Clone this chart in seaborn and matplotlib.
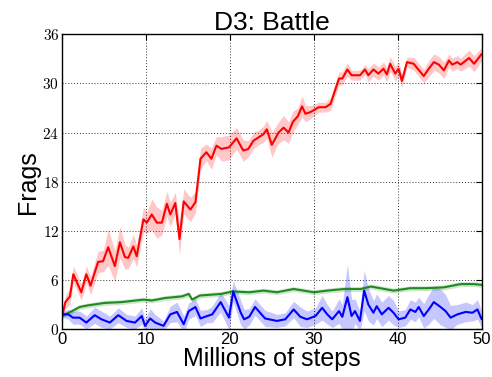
import numpy as np
import pandas as pd
import matplotlib
matplotlib.use("Agg")
import matplotlib.pyplot as plt
import seaborn as sns

# red curve (mean and half-width of the shaded band)
red_x = [0, 0.4, 0.95, 1.35, 2.3, 2.9, 3.4, 4.3, 4.9, 5.5, 6.3, 6.9, 7.5, 7.9, 8.5, 8.9,
         9.7, 10.1, 10.7, 11.3, 11.9, 12.5, 12.9, 13.5, 14.0, 14.5, 15.3, 15.9, 16.5, 17.2,
         17.8, 18.4, 19.0, 19.9, 20.8, 21.6, 22.2, 22.8, 23.4, 24.0, 24.4, 25.0, 25.8, 26.4,
         27.0, 27.5, 28.1, 28.6, 29.0, 29.6, 30.6, 31.4, 32.0, 33.0, 33.4, 34.0, 34.5, 35.5,
         36.1, 36.5, 37.1, 37.7, 38.3, 38.7, 39.1, 39.7, 40.1, 40.5, 41.1, 41.9, 43.1, 43.7,
         44.3, 44.9, 45.5, 46.1, 46.5, 47.1, 47.5, 48.5, 49.1, 50.0]
red_y = [1.5, 3.3, 4.0, 6.7, 4.5, 6.7, 5.3, 8.2, 8.3, 10.0, 7.7, 10.6, 8.8, 8.7, 10.1, 8.9,
         13.4, 13.0, 14.0, 13.0, 13.0, 15.3, 14.0, 15.4, 11.0, 15.6, 14.6, 15.5, 20.8, 21.6,
         20.8, 22.4, 22.0, 22.2, 23.3, 21.8, 22.0, 23.0, 23.4, 23.8, 24.4, 22.5, 24.0, 24.6,
         24.0, 25.3, 26.0, 27.2, 26.3, 26.5, 27.1, 27.1, 27.5, 30.6, 30.6, 31.7, 31.0, 31.0,
         31.7, 31.0, 31.7, 31.2, 31.8, 31.1, 32.4, 31.2, 31.8, 30.3, 32.6, 32.4, 30.9, 31.8,
         32.6, 32.3, 31.6, 32.8, 32.3, 32.6, 32.3, 33.1, 32.4, 33.6]
red_band = [0.6, 0.8, 1.0, 1.0, 1.0, 1.0, 1.1, 1.3, 1.3, 2.2, 1.9, 1.9, 1.5, 1.3, 1.5, 1.3,
            1.5, 1.3, 1.9, 1.9, 1.5, 1.5, 1.5, 1.3, 1.9, 1.5, 1.5, 1.3, 1.3, 1.0,
            1.3, 1.1, 1.5, 1.5, 1.3, 1.3, 1.0, 1.0, 0.9, 1.0, 1.1, 1.5, 1.3, 1.5,
            1.3, 1.3, 1.0, 1.3, 1.0, 0.8, 0.6, 0.6, 0.8, 0.8, 0.8, 0.8, 0.6, 0.6,
            0.6, 0.8, 0.8, 0.8, 0.8, 0.9, 0.9, 0.9, 0.9, 0.8, 0.6, 0.8, 0.8, 1.0,
            1.0, 1.0, 1.0, 0.8, 0.8, 0.8, 0.8, 1.0, 1.0, 0.8]

# green curve
green_x = [0, 1.2, 2.1, 3.1, 5.1, 7.1, 9.7, 10.7, 12.3, 14.3, 15.1, 15.5, 16.4, 19.0, 20.3,
           22.3, 24.0, 25.6, 27.6, 30.0, 31.6, 33.6, 35.6, 36.8, 37.9, 39.5, 41.5, 43.5,
           45.5, 47.5, 49.1, 50.0]
green_y = [1.6, 2.2, 2.7, 2.9, 3.2, 3.3, 3.6, 3.5, 3.8, 4.0, 4.3, 3.6, 4.1, 4.3, 4.6,
           4.5, 4.7, 4.5, 4.9, 4.5, 4.7, 4.9, 4.9, 5.2, 5.0, 4.7, 5.0, 5.0,
           5.1, 5.5, 5.5, 5.4]
green_band = 0.3

# blue curve
blue_x = [0, 0.75, 1.3, 2.1, 2.9, 3.9, 4.7, 5.7, 6.7, 7.7, 8.7, 9.5, 9.9, 10.5, 11.1, 12.1,
          12.9, 13.7, 14.5, 15.1, 15.9, 16.5, 17.3, 17.9, 18.9, 19.9, 20.4, 21.3, 21.7, 22.3,
          23.0, 24.2, 25.6, 26.6, 27.6, 28.4, 29.2, 30.2, 31.0, 31.6, 32.2, 33.0, 33.4, 34.0,
          34.5, 34.9, 35.5, 36.0, 36.5, 37.1, 37.5, 38.1, 38.9, 39.5, 40.1, 40.9, 41.5, 42.1,
          42.5, 43.1, 43.7, 44.3, 45.1, 45.7, 46.3, 47.1, 48.1, 48.9, 49.5, 50.0]
blue_y = [1.8, 1.8, 1.4, 1.4, 0.8, 1.7, 1.2, 0.8, 1.7, 1.0, 0.8, 1.6, 0.4, 1.3, 0.8, 0.4,
          1.8, 2.1, 0.6, 2.2, 2.7, 1.3, 1.6, 1.8, 3.3, 1.4, 4.6, 2.0, 1.2, 1.5,
          2.7, 1.3, 1.0, 1.2, 2.4, 1.5, 1.2, 1.6, 2.6, 1.8, 1.2, 2.2, 1.5, 3.9,
          1.6, 2.2, 1.0, 4.7, 3.0, 2.0, 2.8, 1.8, 2.6, 2.0, 1.2, 1.4, 2.4, 2.1,
          2.7, 1.6, 2.4, 3.3, 2.7, 2.2, 1.4, 1.8, 2.1, 2.0, 2.4, 1.2]
blue_band = [0.3, 0.6, 0.8, 0.8, 0.8, 1.0, 1.0, 0.8, 0.9, 0.8, 0.8, 1.0, 0.8, 1.2, 1.0, 0.6,
             1.0, 1.2, 1.0, 1.0, 1.0, 1.0, 0.8, 1.0, 1.2, 1.5, 1.3, 1.5, 1.2, 1.0,
             1.0, 1.0, 0.8, 0.8, 1.0, 1.2, 1.0, 1.0, 1.5, 1.2, 1.0, 1.5, 1.5, 4.0,
             2.0, 1.5, 1.2, 2.5, 2.0, 1.5, 1.5, 1.5, 1.5, 1.5, 1.0, 1.0, 1.2, 1.2,
             1.2, 1.5, 1.8, 2.0, 2.2, 2.0, 1.5, 1.2, 1.2, 1.0, 1.2, 1.0]

x_ticks = [0, 10, 20, 30, 40, 50]
y_ticks = [0, 6, 12, 18, 24, 30, 36]

sns.set_style("white")
plt.rcParams['font.family'] = ['Liberation Sans', 'DejaVu Sans']
plt.rcParams['mathtext.fontset'] = 'cm'
plt.rcParams['text.color'] = 'black'
plt.rcParams['axes.labelcolor'] = 'black'

fig, ax = plt.subplots(figsize=(4.92, 3.77), dpi=100)
fig.subplots_adjust(left=0.126, right=0.979, top=0.909, bottom=0.127)

series = [
    (red_x, red_y, red_band, '#ff0000'),
    (green_x, green_y, [green_band] * len(green_x), '#1f8a1f'),
    (blue_x, blue_y, blue_band, '#0000ff'),
]
for xs, ys, band, col in series:
    df = pd.DataFrame({'x': xs, 'y': ys, 'b': band})
    ax.fill_between(df['x'], df['y'] - df['b'], df['y'] + df['b'],
                    color=col, alpha=0.22, linewidth=0)
    sns.lineplot(data=df, x='x', y='y', color=col, linewidth=1.5, ax=ax)

ax.set_xlim(0, 50)
ax.set_ylim(0, 36)
ax.set_xticks(x_ticks)
ax.set_yticks(y_ticks)
ax.set_xticklabels([str(t) for t in x_ticks], fontsize=12)
ax.set_yticklabels(['$%d$' % t for t in y_ticks], fontsize=11)
ax.grid(True, color='#333333', linestyle=(0, (1, 2)), linewidth=0.7)
ax.tick_params(direction='in', length=4, width=0.8, top=True, right=True,
               pad=2, colors='black')
for s in ax.spines.values():
    s.set_color('black')
    s.set_linewidth(1.0)

ax.set_title('D3: Battle', fontsize=19, pad=3, color='black')
ax.set_xlabel('Millions of steps', fontsize=18, labelpad=0, color='black')
ax.set_ylabel('Frags', fontsize=18, labelpad=2, color='black')

fig.savefig('out.png', dpi=100)
